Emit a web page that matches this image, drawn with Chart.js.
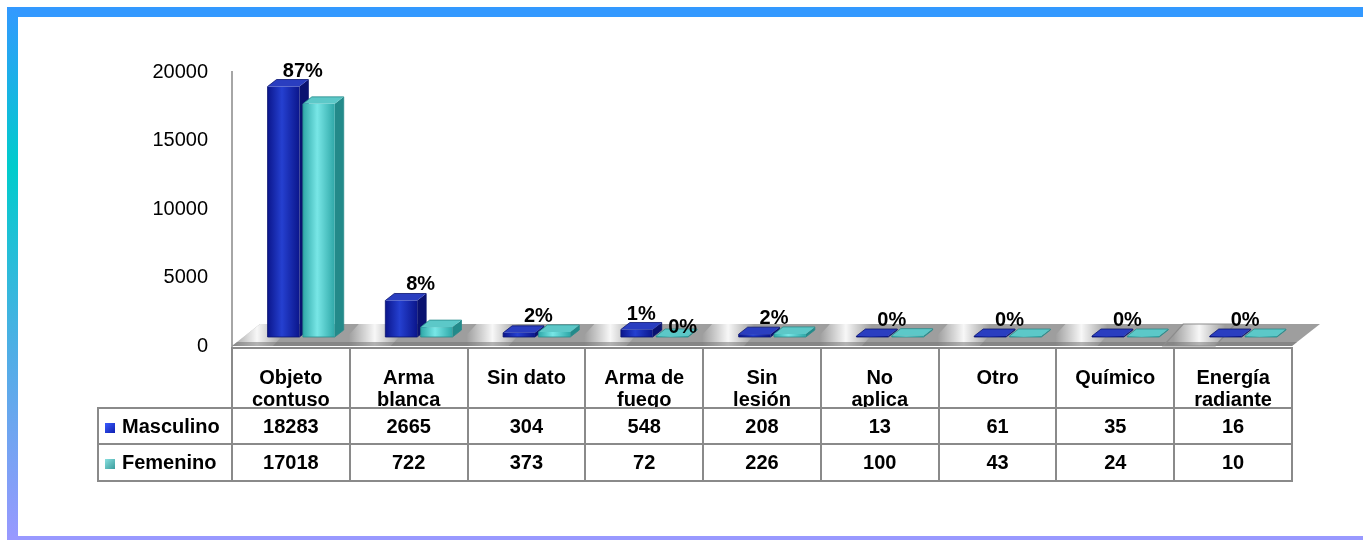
<!DOCTYPE html>
<html>
<head>
<meta charset="utf-8">
<script src="https://cdn.jsdelivr.net/npm/chart.js@4.4.0/dist/chart.umd.min.js"></script>
<style>
body { margin: 0; background: #fff; font-family: "Liberation Sans", Arial, sans-serif; }
#wrap { position: relative; width: 1363px; height: 540px; overflow: hidden; background: #fff; }
.frame-top { position: absolute; left: 7px; top: 7px; width: 1356px; height: 10px; background: #3399ff; }
.frame-left { position: absolute; left: 7px; top: 7px; width: 11px; height: 533px;
  background: linear-gradient(#3399ff 0%, #00cccc 30%, #50aee6 65%, #9999ff 100%); }
.frame-bottom { position: absolute; left: 7px; top: 536px; width: 1356px; height: 4px; background: #9999ff; }
#chart { position: absolute; left: 0; top: 0; }
.cell { position: absolute; box-sizing: border-box; border: 2px solid #8a8a8a; font-weight: bold;
  font-size: 20px; text-align: center; overflow: hidden; color: #000; white-space: nowrap; }
.head { padding-top: 17px; line-height: 22px; }
.mark { display: inline-block; width: 10px; height: 10px; margin: 0 7px 0 6px; vertical-align: 0px; }
</style>
</head>
<body>
<div id="wrap">
  <canvas id="chart" width="1363" height="540"></canvas>
  <div id="table"></div>
  <div class="frame-top"></div>
  <div class="frame-left"></div>
  <div class="frame-bottom"></div>
</div>
<script>
// data
const categories = ['Objeto\ncontuso', 'Arma\nblanca', 'Sin dato', 'Arma de\nfuego', 'Sin\nlesión', 'No\naplica', 'Otro', 'Químico', 'Energía\nradiante'];
const masculino = [18283, 2665, 304, 548, 208, 13, 61, 35, 16];
const femenino = [17018, 722, 373, 72, 226, 100, 43, 24, 10];
const pctLabels = ['87%', '8%', '2%', '1%', '2%', '0%', '0%', '0%', '0%'];
const pctFemLabels = [null, null, null, '0%', null, null, null, null, null];
const yTicks = [0, 5000, 10000, 15000, 20000];
const seriesNames = ['Masculino', 'Femenino'];

const FONT = '"Liberation Sans", Arial, sans-serif';

// 3d look
const DX = 12, DY = -9, DEPTH_X = 9, DEPTH_Y = -7;
const FLOOR_X = 28, FLOOR_Y = -22;

const barColors = [
    { dark: '#0b168c', mid: '#2540d0', side: '#0a1270', top: '#2a3ec0', line: '#0a1470' },
    { dark: '#2fa8a8', mid: '#78e6e6', side: '#238a8a', top: '#5cc8c8', line: '#2a8c8c' }
];

function frontLeft(el) { return el.x - el.width / 2 + DX; }
function frontWidth(el) { return el.width - 3.5; }
function topOf(el) {
    const bottom = el.base + DY;
    return Math.min(el.y + DY, bottom - 1) + DEPTH_Y;
}

function drawBar(ctx, el, c) {
    const left = frontLeft(el);
    const right = left + frontWidth(el);
    const bottom = el.base + DY;
    const top = Math.min(el.y + DY, bottom - 1);

    // side
    ctx.fillStyle = c.side;
    ctx.beginPath();
    ctx.moveTo(right, bottom);
    ctx.lineTo(right + DEPTH_X, bottom + DEPTH_Y);
    ctx.lineTo(right + DEPTH_X, top + DEPTH_Y);
    ctx.lineTo(right, top);
    ctx.closePath();
    ctx.fill();

    // front
    let g = ctx.createLinearGradient(left, 0, right, 0);
    g.addColorStop(0, c.dark);
    g.addColorStop(0.45, c.mid);
    g.addColorStop(1, c.dark);
    ctx.fillStyle = g;
    ctx.fillRect(left, top, right - left, bottom - top);

    // top
    ctx.fillStyle = c.top;
    ctx.beginPath();
    ctx.moveTo(left, top);
    ctx.lineTo(right, top);
    ctx.lineTo(right + DEPTH_X, top + DEPTH_Y);
    ctx.lineTo(left + DEPTH_X, top + DEPTH_Y);
    ctx.closePath();
    ctx.fill();

    ctx.strokeStyle = c.line;
    ctx.lineWidth = 0.8;
    ctx.beginPath();
    ctx.moveTo(left, bottom);
    ctx.lineTo(left, top);
    ctx.lineTo(left + DEPTH_X, top + DEPTH_Y);
    ctx.lineTo(right + DEPTH_X, top + DEPTH_Y);
    ctx.lineTo(right + DEPTH_X, bottom + DEPTH_Y);
    ctx.lineTo(right, bottom);
    ctx.closePath();
    ctx.stroke();
}

const floorPlugin = {
    id: 'floor3d',
    beforeDatasetsDraw(chart) {
        const ctx = chart.ctx;
        const a = chart.chartArea;
        ctx.save();
        ctx.beginPath();
        ctx.moveTo(a.left, a.bottom);
        ctx.lineTo(a.right, a.bottom);
        ctx.lineTo(a.right + FLOOR_X, a.bottom + FLOOR_Y);
        ctx.lineTo(a.left + FLOOR_X, a.bottom + FLOOR_Y);
        ctx.closePath();
        ctx.fillStyle = '#9e9e9e';
        ctx.fill();
        ctx.save();
        ctx.clip();
        // light streaks across the floor
        const step = (a.right - a.left) / categories.length;
        for (let i = 0; i < categories.length; i++) {
            const sx = a.left + i * step + 25;
            const g = ctx.createLinearGradient(sx - 26, 0, sx + 26, 0);
            g.addColorStop(0, 'rgba(255,255,255,0)');
            g.addColorStop(0.5, 'rgba(255,255,255,0.92)');
            g.addColorStop(1, 'rgba(255,255,255,0)');
            ctx.fillStyle = g;
            ctx.beginPath();
            ctx.moveTo(sx - 36, a.bottom);
            ctx.lineTo(sx + 16, a.bottom);
            ctx.lineTo(sx + 36, a.bottom + FLOOR_Y);
            ctx.lineTo(sx - 16, a.bottom + FLOOR_Y);
            ctx.closePath();
            ctx.fill();
        }
        ctx.fillStyle = 'rgba(110,110,110,0.5)';
        ctx.fillRect(a.left, a.bottom - 4, a.right - a.left + FLOOR_X, 4);
        ctx.restore();
        ctx.strokeStyle = '#8c8c8c';
        ctx.lineWidth = 1.2;
        ctx.stroke();
        ctx.restore();
    }
};

const barsPlugin = {
    id: 'bars3d',
    afterDatasetsDraw(chart) {
        const ctx = chart.ctx;
        const metas = [chart.getDatasetMeta(0), chart.getDatasetMeta(1)];
        ctx.save();
        for (let i = 0; i < categories.length; i++) {
            drawBar(ctx, metas[0].data[i], barColors[0]);
            drawBar(ctx, metas[1].data[i], barColors[1]);
        }
        // percentage labels
        ctx.font = 'bold 20px ' + FONT;
        ctx.fillStyle = '#000';
        ctx.textAlign = 'center';
        ctx.textBaseline = 'alphabetic';
        for (let i = 0; i < categories.length; i++) {
            const m = metas[0].data[i], f = metas[1].data[i];
            if (pctFemLabels[i]) {
                ctx.fillText(pctLabels[i], frontLeft(m) + frontWidth(m) / 2 + DEPTH_X / 2, topOf(m) - 2);
                ctx.fillText(pctFemLabels[i], frontLeft(f) + frontWidth(f) / 2 + DEPTH_X / 2 + 6, topOf(f) + 4);
            } else {
                const x = chart.scales.x.getPixelForValue(i) + 12;
                ctx.fillText(pctLabels[i], x, Math.min(topOf(m), topOf(f)) - 3);
            }
        }
        ctx.restore();
    }
};

const chart = new Chart(document.getElementById('chart'), {
    type: 'bar',
    data: {
        labels: categories.map(c => c.split('\n')),
        datasets: [
            { label: seriesNames[0], data: masculino, backgroundColor: 'rgba(0,0,0,0)' },
            { label: seriesNames[1], data: femenino, backgroundColor: 'rgba(0,0,0,0)' }
        ]
    },
    options: {
        responsive: false,
        animation: false,
        devicePixelRatio: 1,
        layout: { padding: { left: 0, right: 71, top: 72, bottom: 194 } },
        datasets: { bar: { categoryPercentage: 0.6, barPercentage: 1.0 } },
        plugins: { legend: { display: false }, tooltip: { enabled: false } },
        scales: {
            x: { display: false },
            y: {
                min: 0,
                max: 20000,
                afterBuildTicks: function(scale) {
                    scale.ticks = yTicks.map(v => ({ value: v }));
                },
                afterFit: function(scale) {
                    scale.width = 232;
                },
                grid: { display: false, drawTicks: false },
                border: { display: true, color: '#a6a6a6', width: 2 },
                ticks: {
                    padding: 24,
                    color: '#000',
                    font: { family: FONT, size: 20 },
                    callback: function(value) { return String(value); }
                }
            }
        }
    },
    plugins: [floorPlugin, barsPlugin]
});

// data table under the chart, columns taken from the chart area
function buildTable() {
    const tbl = document.getElementById('table');
    const a = chart.chartArea;
    const cw = (a.right - a.left) / categories.length;
    const rows = [masculino, femenino];
    const markColors = ['linear-gradient(135deg,#3a5cff,#1020b0)', 'linear-gradient(135deg,#8ae0e0,#3a9c9c)'];
    const rowTop = [407, 443], rowH = [38, 39];

    categories.forEach(function(cat, i) {
        const d = document.createElement('div');
        d.className = 'cell head';
        d.style.left = (a.left + i * cw - 1) + 'px';
        d.style.top = '347px';
        d.style.width = (cw + 2) + 'px';
        d.style.height = '62px';
        d.innerHTML = cat.split('\n').join('<br>');
        tbl.appendChild(d);
    });

    rows.forEach(function(vals, r) {
        const lg = document.createElement('div');
        lg.className = 'cell';
        lg.style.left = '97px';
        lg.style.top = rowTop[r] + 'px';
        lg.style.width = (a.left - 97 + 1) + 'px';
        lg.style.height = rowH[r] + 'px';
        lg.style.lineHeight = (rowH[r] - 4) + 'px';
        lg.style.textAlign = 'left';
        lg.innerHTML = '<span class="mark" style="background:' + markColors[r] + '"></span>' + seriesNames[r];
        tbl.appendChild(lg);
        vals.forEach(function(v, i) {
            const d = document.createElement('div');
            d.className = 'cell';
            d.style.left = (a.left + i * cw - 1) + 'px';
            d.style.top = rowTop[r] + 'px';
            d.style.width = (cw + 2) + 'px';
            d.style.height = rowH[r] + 'px';
            d.style.lineHeight = (rowH[r] - 4) + 'px';
            d.textContent = v;
            tbl.appendChild(d);
        });
    });
}
buildTable();
</script>
</body>
</html>
